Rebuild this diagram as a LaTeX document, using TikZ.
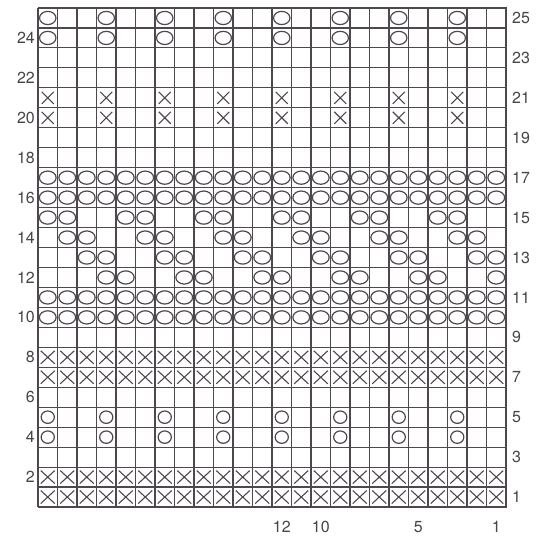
\documentclass[tikz,border=0pt]{standalone}
\usepackage{fontspec}
\setmainfont{TeX Gyre Heros}
\usepackage{xcolor}
\usetikzlibrary{calc}

\definecolor{ink}{RGB}{78,72,78}
\definecolor{numgray}{RGB}{70,70,70}

\tikzset{
    gridline/.style={ink, line width=1.1pt},
    repeatbox/.style={ink, line width=2.6pt},
    stO/.style={ink, line width=1.2pt},
    stX/.style={ink, line width=1.1pt},
    rownum/.style={numgray, font=\fontsize{16}{18}\selectfont, inner sep=1pt}
}

\begin{document}
\begin{tikzpicture}[x=19.5pt, y=19.96pt]
    \useasboundingbox (-38pt,-32pt) rectangle (502pt,507pt);
    \fill[white] (-38pt,-32pt) rectangle (502pt,507pt);

    % 1. Gitter
    \foreach \c in {0,...,24} {
        \draw[gridline] (\c,0) -- (\c,25);
    }
    \foreach \r in {0,...,25} {
        \draw[gridline] (0,\r) -- (24,\r);
    }
    \draw[repeatbox] (12,0) rectangle (24,25);

    % 2. Reihen mit X
    \foreach \r in {1,2,7,8} {
        \foreach \c in {1,...,24} {
            \draw[stX] (\c-0.5,\r-0.5) +(-7pt,-6.5pt) -- +(7pt,6.5pt)
                                       +(-7pt,6.5pt) -- +(7pt,-6.5pt);
        }
    }
    \foreach \r in {20,21} {
        \foreach \c in {1,4,...,22} {
            \draw[stX] (\c-0.5,\r-0.5) +(-6pt,-6pt) -- +(6pt,6pt)
                                       +(-6pt,6pt) -- +(6pt,-6pt);
        }
    }

    % 3. Reihen mit O
    \foreach \r in {10,11,16,17} {
        \foreach \c in {1,...,24} {
            \draw[stO] (\c-0.5,\r-0.5) ellipse [x radius=8.4pt, y radius=6.6pt];
        }
    }
    \foreach \r in {4,5} {
        \foreach \c in {1,4,...,22} {
            \draw[stO] (\c-0.5,\r-0.5) ellipse [x radius=6.6pt, y radius=6.2pt];
        }
    }
    \foreach \r in {24,25} {
        \foreach \c in {1,4,...,22} {
            \draw[stO] (\c-0.5,\r-0.5) ellipse [x radius=8.2pt, y radius=6.6pt];
        }
    }
    % Diagonale 12--15 (Reihe 12 beginnt erst bei Masche 4)
    \foreach \r in {12,...,15} {
        \foreach \c in {1,...,24} {
            \pgfmathtruncatemacro{\m}{mod(\c+\r,4)}
            \pgfmathtruncatemacro{\skip}{(\r==12)&&(\c==1)}
            \ifnum\m<2 \ifnum\skip=0
                \draw[stO] (\c-0.5,\r-0.5) ellipse [x radius=8.4pt, y radius=6.6pt];
            \fi\fi
        }
    }

    % 4. Reihennummern
    \foreach \r in {2,4,...,24} {
        \node[rownum, anchor=east] (left-\r) at ($(0,\r-0.5)+(-2pt,0)$) {\r};
    }
    \foreach \r in {1,3,...,25} {
        \node[rownum, anchor=west] (right-\r) at ($(24,\r-0.5)+(5pt,0)$) {\r};
    }

    % 5. Maschennummern
    \node[rownum] (st-12) at (12.5,-1) {12};
    \node[rownum] (st-10) at (14.5,-1) {10};
    \node[rownum] (st-5)  at (19.5,-1) {5};
    \node[rownum] (st-1)  at (23.5,-1) {1};
\end{tikzpicture}
\end{document}
